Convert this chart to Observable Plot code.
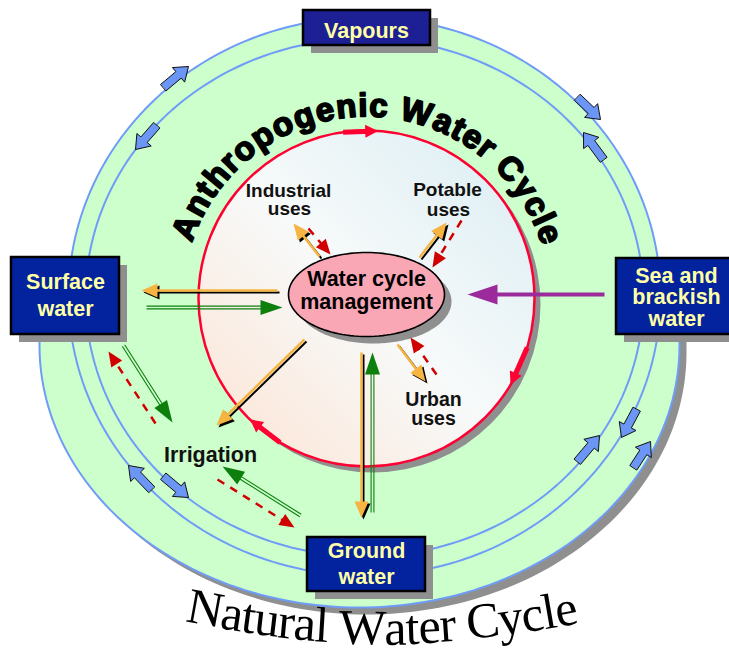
<!DOCTYPE html>
<html>
<head>
<meta charset="utf-8">
<script src="https://cdn.jsdelivr.net/npm/d3@7"></script>
<script src="https://cdn.jsdelivr.net/npm/@observablehq/plot@0.6"></script>
<style>
html,body{margin:0;padding:0;background:#fff;}
#chart svg{display:block;}
</style>
</head>
<body>
<div id="chart"></div>
<script>
const W = 729, H = 648;

// ---------- diagram data (picture units) ----------
const boxNames = ["Vapours", "Surface water", "Sea and brackish water", "Ground water"];
const boxX1 = [303, 11, 616, 307];
const boxX2 = [430, 119, 745, 425];
const boxY1 = [10, 257, 258, 537];
const boxY2 = [45, 334, 334, 591];

const boxLabelText = ["Vapours", "Surface", "water", "Sea and", "brackish", "water", "Ground", "water"];
const boxLabelX = [366, 65, 65, 676, 676, 676, 366, 366];
const boxLabelY = [37, 288, 315, 282, 303, 325, 557, 583];

const useLabelText = ["Industrial", "uses", "Potable", "uses", "Urban", "uses", "Irrigation"];
const useLabelX = [288, 289, 447, 448, 433, 433, 210];
const useLabelY = [197, 215, 196, 216, 405, 424, 461];
const useLabelSize = [19, 19, 19, 19, 19.5, 19.5, 21.5];

const hubText = ["Water cycle", "management"];
const hubTextY = [285, 308];

const innerTitle = "Anthropogenic Water Cycle";
const outerTitle = "Natural Water Cycle";

// ellipses: [cx, cy, rx, ry]
const outerArc = [364, 296, 296, 279];
const innerArc = [364, 297, 279, 259];
const lowerRing = [359, 345, 320, 262];
const lowerRingTop = 300;
const core = [366, 298, 168];
const hub = [366, 294, 78, 42];

// flows: [fromX, fromY, toX, toY]
const supplyFlows = [
  [277, 290, 141, 290], [319, 256, 293, 223], [419, 257, 446, 222],
  [397, 344, 425, 381], [304, 339, 216, 425], [361, 352, 361, 517]
];
const naturalFlows = [
  [146, 307, 282, 307], [372, 512, 372, 352], [123, 345, 172, 422], [300, 515, 222, 466]
];
const returnFlows = [
  [308, 228, 330, 254], [461, 220, 432, 267], [436, 374, 410, 337],
  [155, 423, 108, 351], [217, 479, 294, 527]
];
const desalFlow = [[604, 294, 467, 294]];
const exchangeArrows = [
  [163, 87, 188, 66], [156, 125, 135, 149], [577, 97, 600, 119], [603, 159, 583, 132],
  [151, 489, 128, 465], [163, 476, 188, 497], [577, 461, 599, 435], [636, 409, 621, 437],
  [633, 467, 650, 441]
];
const cycleArrowDeg = [[-8, 4], [107, 121], [211, 224]];

// ---------- geometry helpers ----------
function ellipsePts(e, t0, t1, n, id = 0) {
  return d3.range(n + 1).map(i => {
    const t = t0 + (t1 - t0) * i / n;
    return {id, x: e[0] + e[2] * Math.cos(t), y: e[1] + e[3] * Math.sin(t)};
  });
}
function unit(f) {
  const dx = f[2] - f[0], dy = f[3] - f[1], l = Math.hypot(dx, dy);
  return {ux: dx / l, uy: dy / l, nx: -dy / l, ny: dx / l};
}
function heads(flows, L, Wd, tag) {
  return flows.flatMap((f, i) => {
    const u = unit(f), bx = f[2] - L * u.ux, by = f[3] - L * u.uy;
    return [
      {id: tag + i, x: f[2], y: f[3]},
      {id: tag + i, x: bx + Wd * u.nx, y: by + Wd * u.ny},
      {id: tag + i, x: bx - Wd * u.nx, y: by - Wd * u.ny}
    ];
  });
}
function shafts(flows, cut, off = 0) {
  return flows.map(f => {
    const u = unit(f);
    return {x1: f[0] + off * u.nx, y1: f[1] + off * u.ny,
            x2: f[2] - cut * u.ux + off * u.nx, y2: f[3] - cut * u.uy + off * u.ny};
  });
}
function blocks(arrs) {
  const sw = 4.2, hw = 9.5, hl = 13;
  return arrs.flatMap((f, i) => {
    const u = unit(f), nkx = f[2] - hl * u.ux, nky = f[3] - hl * u.uy;
    const P = (x, y) => ({id: "b" + i, x, y});
    return [
      P(f[0] + sw * u.nx, f[1] + sw * u.ny), P(nkx + sw * u.nx, nky + sw * u.ny),
      P(nkx + hw * u.nx, nky + hw * u.ny), P(f[2], f[3]),
      P(nkx - hw * u.nx, nky - hw * u.ny), P(nkx - sw * u.nx, nky - sw * u.ny),
      P(f[0] - sw * u.nx, f[1] - sw * u.ny)
    ];
  });
}
const polar = (deg, r) => [core[0] + r * Math.sin(deg * Math.PI / 180), core[1] - r * Math.cos(deg * Math.PI / 180)];
const cycleFlows = cycleArrowDeg.map(([a, b]) => [...polar(a, core[2]), ...polar(b, core[2])]);

const lowerPts = [{x: lowerRing[0] - lowerRing[2], y: lowerRingTop},
  ...ellipsePts(lowerRing, Math.PI, 0, 120),
  {x: lowerRing[0] + lowerRing[2], y: lowerRingTop}];

const boxes = boxNames.map((n, i) => ({n, x1: boxX1[i], x2: boxX2[i], y1: boxY1[i], y2: boxY2[i]}));
const boxLabels = boxLabelText.map((t, i) => ({t, x: boxLabelX[i], y: boxLabelY[i]}));
const useLabels = useLabelText.map((t, i) => ({t, x: useLabelX[i], y: useLabelY[i], s: useLabelSize[i]}));
const hubLabels = hubText.map((t, i) => ({t, x: hub[0], y: hubTextY[i]}));

const SANS = "Liberation Sans, Arial, Helvetica, sans-serif";
const SERIF = "Liberation Serif, Times New Roman, serif";

// ---------- letters laid along arcs ----------
const ctx = document.createElement("canvas").getContext("2d");
function layout(str, font, target) {
  ctx.font = font;
  const w = [...str].map(ch => ctx.measureText(ch).width);
  const total = d3.sum(w), k = target / total;
  let acc = 0;
  return {k, letters: [...str].map((ch, i) => { const s = acc + w[i] * k / 2; acc += w[i] * k; return {ch, s}; })};
}
// inner title on a circle around the core (clockwise, from angle a0 to a1)
const anthro = {cx: 366, cy: 300, r: 184, a0: -72, a1: 73, fs: 33};
const anthroLay = layout(innerTitle, `bold ${anthro.fs}px Liberation Sans`, anthro.r * (anthro.a1 - anthro.a0) * Math.PI / 180);
const anthroLetters = anthroLay.letters.map(({ch, s}) => {
  const th = anthro.a0 * Math.PI / 180 + s / anthro.r, rr = anthro.r + 0.32 * anthro.fs;
  return {ch, x: anthro.cx + rr * Math.sin(th), y: anthro.cy - rr * Math.cos(th), rot: th * 180 / Math.PI, v: 1};
});
// outer title along the bottom of a large circle (left to right), letter height varying (WordArt)
const nat = {cx: 380, cy: -355, R: 1000, xa: 184, len: 398, fs: 50};
const natCap = d3.scaleLinear([185, 300, 400, 485, 580], [44, 38, 34, 39, 38]).clamp(true);
const natLay = layout(outerTitle, `${nat.fs}px Liberation Serif`, nat.len);
const natLetters = natLay.letters.map(({ch, s}) => {
  const ps = Math.asin((nat.xa - nat.cx) / nat.R) + s / nat.R;
  const bx = nat.cx + nat.R * Math.sin(ps);
  const v = natCap(bx) / (0.66 * nat.fs);
  const rr = nat.R - 0.32 * nat.fs * v;
  return {ch, x: nat.cx + rr * Math.sin(ps), y: nat.cy + rr * Math.cos(ps), rot: -ps * 180 / Math.PI, v};
});

const GREY = "#8f8f8f", BLUE = "#6f9cf7", GREEN_BG = "#ccffcc";
const ORANGE = "#f6b443", GREEN = "#0d7f0d", RED = "#d10000", PURPLE = "#9b2a9b";

const chart = Plot.plot({
  width: W, height: H, margin: 0,
  x: {domain: [0, W], range: [0, W], axis: null},
  y: {domain: [0, H], range: [0, H], axis: null},
  color: {type: "identity"},
  style: {background: "white", overflow: "hidden"},
  marks: [
    // natural water cycle ring
    Plot.line(lowerPts, {x: "x", y: "y", fill: GREY, stroke: "none", dx: 7, dy: 7}),
    Plot.line(lowerPts, {x: "x", y: "y", fill: GREEN_BG, stroke: "none"}),
    Plot.line(ellipsePts(outerArc, 0, 2 * Math.PI, 240), {x: "x", y: "y", fill: GREEN_BG, stroke: "none", curve: "linear-closed"}),
    Plot.line(lowerPts, {x: "x", y: "y", stroke: BLUE, strokeWidth: 2}),
    Plot.line(ellipsePts(outerArc, 0, 2 * Math.PI, 240), {x: "x", y: "y", stroke: BLUE, strokeWidth: 2, curve: "linear-closed"}),
    Plot.line(ellipsePts(innerArc, 0, 2 * Math.PI, 240), {x: "x", y: "y", stroke: BLUE, strokeWidth: 2, curve: "linear-closed"}),
    // anthropogenic core
    Plot.dot([core], {x: d => d[0], y: d => d[1], r: core[2], fill: GREY, stroke: "none", dx: 6, dy: 6}),
    Plot.dot([core], {x: d => d[0], y: d => d[1], r: core[2], fill: "url(#coreFill)", stroke: "#ff0033", strokeWidth: 2.5}),
    Plot.link(shafts(cycleFlows, 8), {x1: "x1", y1: "y1", x2: "x2", y2: "y2", stroke: "#ff0033", strokeWidth: 5}),
    Plot.line(heads(cycleFlows, 13, 6.5, "c"), {x: "x", y: "y", z: "id", fill: "#ff0033", stroke: "none", curve: "linear-closed"}),
    // hub ellipse
    Plot.line(ellipsePts(hub, 0, 2 * Math.PI, 120), {x: "x", y: "y", fill: GREY, stroke: "none", dx: 7, dy: 7, curve: "linear-closed"}),
    Plot.line(ellipsePts(hub, 0, 2 * Math.PI, 120), {x: "x", y: "y", fill: "#f9a7b5", stroke: "black", strokeWidth: 1.6, curve: "linear-closed"}),
    Plot.text(hubLabels, {x: "x", y: "y", text: "t", fontSize: 21.5, fontWeight: "bold", fontFamily: SANS, fill: "black", dy: -0.32 * 21.5}),
    // supply flows (orange with black shadow)
    Plot.link(shafts(supplyFlows, 10), {x1: "x1", y1: "y1", x2: "x2", y2: "y2", stroke: "black", strokeWidth: 2, dx: 2, dy: 2}),
    Plot.line(heads(supplyFlows, 16, 7, "s"), {x: "x", y: "y", z: "id", fill: "black", stroke: "none", curve: "linear-closed", dx: 2, dy: 2}),
    Plot.link(shafts(supplyFlows, 10), {x1: "x1", y1: "y1", x2: "x2", y2: "y2", stroke: ORANGE, strokeWidth: 2.5}),
    Plot.line(heads(supplyFlows, 16, 7, "s"), {x: "x", y: "y", z: "id", fill: ORANGE, stroke: "none", curve: "linear-closed"}),
    // natural flows (green double lines)
    Plot.link(shafts(naturalFlows, 18, 1.4), {x1: "x1", y1: "y1", x2: "x2", y2: "y2", stroke: GREEN, strokeWidth: 1.1}),
    Plot.link(shafts(naturalFlows, 18, -1.4), {x1: "x1", y1: "y1", x2: "x2", y2: "y2", stroke: GREEN, strokeWidth: 1.1}),
    Plot.line(heads(naturalFlows, 22, 7.5, "g"), {x: "x", y: "y", z: "id", fill: GREEN, stroke: "none", curve: "linear-closed"}),
    // return flows (red dashed)
    Plot.link(shafts(returnFlows, 12), {x1: "x1", y1: "y1", x2: "x2", y2: "y2", stroke: RED, strokeWidth: 2.5, strokeDasharray: "8,7"}),
    Plot.line(heads(returnFlows, 15, 6.5, "r"), {x: "x", y: "y", z: "id", fill: RED, stroke: "none", curve: "linear-closed"}),
    // desalination flow (purple)
    Plot.link(shafts(desalFlow, 25), {x1: "x1", y1: "y1", x2: "x2", y2: "y2", stroke: PURPLE, strokeWidth: 4}),
    Plot.line(heads(desalFlow, 30, 10, "p"), {x: "x", y: "y", z: "id", fill: PURPLE, stroke: "none", curve: "linear-closed"}),
    // blue exchange block arrows
    Plot.line(blocks(exchangeArrows), {x: "x", y: "y", z: "id", fill: "#6b96f5", stroke: "#111", strokeWidth: 1, curve: "linear-closed"}),
    // use labels
    Plot.text(useLabels, {x: "x", y: "y", text: "t", fontSize: d => d.s, fontWeight: "bold", fontFamily: SANS, fill: "#111", dy: -6.2}),
    // boxes
    Plot.rect(boxes, {x1: "x1", x2: "x2", y1: "y1", y2: "y2", fill: GREY, dx: 8, dy: 8}),
    Plot.rect(boxes, {x1: "x1", x2: "x2", y1: "y1", y2: "y2", fill: d => d.n === "Vapours" ? "#1d1f94" : "#03229e", stroke: "black", strokeWidth: 2.5}),
    Plot.text(boxLabels, {x: "x", y: "y", text: "t", fontSize: 21.5, fontWeight: "bold", fontFamily: SANS, fill: "#ffffa6", dy: -0.32 * 21.5}),
    // curved titles, letter by letter
    Plot.text(anthroLetters, {x: "x", y: "y", text: "ch", rotate: "rot", fontSize: anthro.fs, fontWeight: "bold", fontFamily: SANS,
      fill: "black", stroke: "black", strokeWidth: 1.8, ariaLabel: "anthro-title"}),
    Plot.text(natLetters, {x: "x", y: "y", text: "ch", rotate: "rot", fontSize: nat.fs, fontFamily: SERIF,
      fill: "black", ariaLabel: "natural-title"})
  ]
});

// gradient for the core disc
const svg = d3.select(chart);
const defs = svg.insert("defs", ":first-child");
const grad = defs.append("linearGradient").attr("id", "coreFill")
  .attr("x1", "1").attr("y1", "0").attr("x2", "0").attr("y2", "1");
grad.append("stop").attr("offset", "0").attr("stop-color", "#d9ecf3");
grad.append("stop").attr("offset", "0.5").attr("stop-color", "#f7fafa");
grad.append("stop").attr("offset", "1").attr("stop-color", "#fde2d1");

// stretch the arc letters (WordArt look)
function stretch(label, k, letters) {
  svg.selectAll(`g[aria-label="${label}"] text`).each(function (_, i) {
    const t = this.getAttribute("transform") || "";
    const v = letters[i] ? letters[i].v : 1;
    this.setAttribute("transform", `${t} scale(${k},${v})`);
  });
}
stretch("anthro-title", anthroLay.k, anthroLetters);
stretch("natural-title", natLay.k, natLetters);

document.getElementById("chart").appendChild(chart);
</script>
</body>
</html>
